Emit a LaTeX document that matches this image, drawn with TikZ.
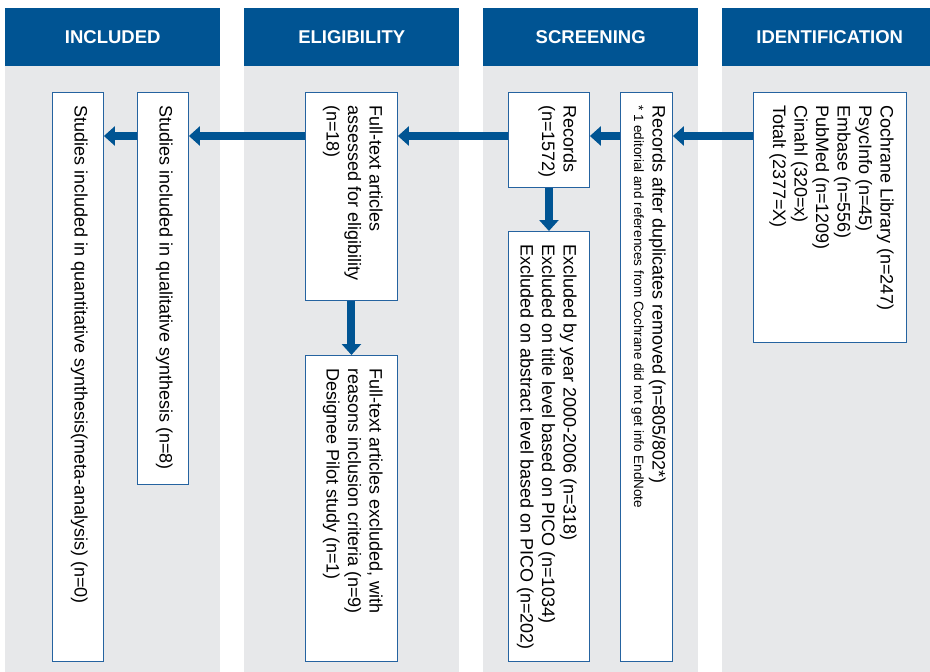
\documentclass[tikz,border=0pt]{standalone}
\usepackage{fontspec}
\setmainfont{Liberation Sans}
\usepackage{tikz}
\usetikzlibrary{arrows.meta}
\usetikzlibrary{positioning}
\usepackage{xcolor}
\definecolor{hdrblue}{HTML}{005493}
\definecolor{colgray}{HTML}{E7E8EA}
\definecolor{edgeblue}{HTML}{2563A0}
\tikzstyle{every node} = [inner sep=0]

\tikzset{
  header/.style={fill=hdrblue, text=white, minimum width=215pt, minimum height=58pt, anchor=north west, font=\fontsize{18.5}{21}\selectfont\bfseries},
  box/.style={draw=edgeblue, line width=0.9pt, fill=white, anchor=north west},
  boxtext/.style={rotate=-90, anchor=north west, align=left, font=\fontsize{18}{21.5}\selectfont},
  flow/.style={draw=hdrblue, line width=8pt, -{Triangle[length=11pt, width=19pt]}}
}

\begin{document}
\begin{tikzpicture}[x=1pt, y=-1pt]
  \useasboundingbox (0,0) rectangle (930,672);

  % Column backgrounds
  \foreach \cx in {5, 244, 483, 722}
    \fill[colgray] (\cx,66) rectangle ++(215,606);

  % Headers
  \node[header] (hdrinc) at (5,8) {INCLUDED};
  \node[header] (hdrelig) at (244,8) {ELIGIBILITY};
  \node[header] (hdrscreen) at (483,8) {SCREENING};
  \node[header] (hdrident) at (722,8) {IDENTIFICATION};

  % Identification
  \node[box, minimum width=153pt, minimum height=250pt] (ident) at (753,92) {};
  \node[boxtext] (identtxt) at ([xshift=-13pt, yshift=-13pt]ident.north east) {Cochrane Library (n=247)\\PsycInfo (n=45)\\Embase (n=556)\\PubMed (n=1209)\\Cinahl (320=x)\\Totalt (2377=X)};

  % Screening
  \node[box, minimum width=52pt, minimum height=569pt] (dup) at (620,92) {};
  \node[boxtext] (duptxt) at ([xshift=-7pt, yshift=-13pt]dup.north east) {Records after duplicates removed (n=805/802*)\\[-3pt]{\fontsize{13.5}{16}\selectfont * 1 editorial and references from Cochrane did not get info EndNote}};

  \node[box, minimum width=81pt, minimum height=95pt] (records) at (508,92) {};
  \node[boxtext] (recordstxt) at ([xshift=-13pt, yshift=-13pt]records.north east) {Records\\(n=1572)};

  \node[box, minimum width=81pt, minimum height=430pt] (scrxcl) at (508,231) {};
  \node[boxtext] (scrxcltxt) at ([xshift=-13pt, yshift=-13pt]scrxcl.north east) {Excluded by year 2000-2006 (n=318)\\Excluded on title level based on PICO (n=1034)\\Excluded on abstract level based on PICO (n=202)};

  % Eligibility
  \node[box, minimum width=92pt, minimum height=208pt] (assessed) at (305,92) {};
  \node[boxtext] (assessedtxt) at ([xshift=-15pt, yshift=-13pt]assessed.north east) {Full-text articles\\assessed for eligibility\\(n=18)};

  \node[box, minimum width=92pt, minimum height=306pt] (ftexcl) at (305,355) {};
  \node[boxtext] (ftexcltxt) at ([xshift=-15pt, yshift=-13pt]ftexcl.north east) {Full-text articles excluded, with\\reasons inclusion criteria (n=9)\\Designee Pilot study (n=1)};

  % Included
  \node[box, minimum width=51pt, minimum height=392pt] (qual) at (137,92) {};
  \node[boxtext] (qualtxt) at ([xshift=-16pt, yshift=-13pt]qual.north east) {Studies included in qualitative synthesis (n=8)};

  \node[box, minimum width=51pt, minimum height=569pt] (quant) at (52,92) {};
  \node[boxtext] (quanttxt) at ([xshift=-16pt, yshift=-13pt]quant.north east) {Studies included in quantitative synthesis(meta-analysis) (n=0)};

  % Connections
  \coordinate (flowrow) at (0,136);
  \draw[flow] (ident.west |- flowrow) -- (dup.east |- flowrow);
  \draw[flow] (dup.west |- flowrow) -- (records.east |- flowrow);
  \draw[flow] (records.west |- flowrow) -- (assessed.east |- flowrow);
  \draw[flow] (assessed.west |- flowrow) -- (qual.east |- flowrow);
  \draw[flow] (qual.west |- flowrow) -- (quant.east |- flowrow);
  \draw[flow] (records.south) -- (scrxcl.north);
  \draw[flow] (assessed.south) -- (ftexcl.north);
\end{tikzpicture}
\end{document}
